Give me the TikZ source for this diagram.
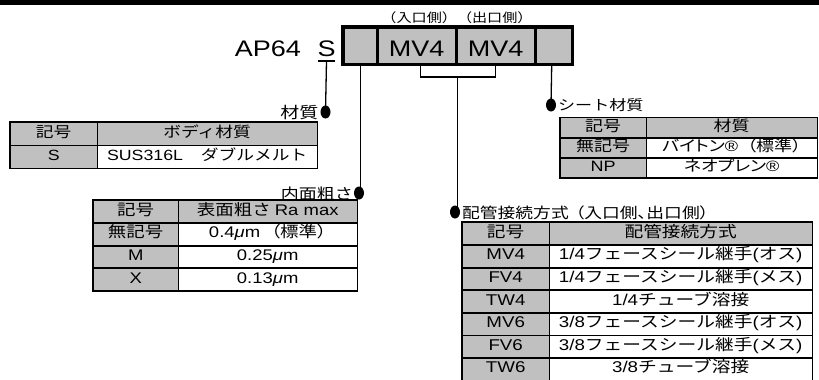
\documentclass[tikz,border=0pt]{standalone}
\usepackage{fontspec}
\setmainfont{Noto Sans CJK JP}[FakeStretch=1.2]
\newfontfamily\lat{Liberation Sans}[FakeStretch=1.2]
\newfontfamily\jpp{Noto Sans CJK JP}[FakeStretch=1.2,RawFeature=+palt]
\usetikzlibrary{calc,shapes.geometric}
\definecolor{cellgray}{RGB}{192,192,192}
\newcommand\myla[1]{{\lat #1}}
\newcommand\mymu{{\lat\itshape μ}}
\newcommand\fs[1]{\fontsize{#1}{#1}\selectfont}
\tikzset{
  cellbox/.style={inner sep=0pt, anchor=north west, text height=0.86em, text depth=0.12em},
  tline/.style={line width=1.8pt},
  conn/.style={line width=1.3pt},
  dotn/.style={ellipse, fill=black, minimum width=10pt, minimum height=13pt, inner sep=0pt},
  codecell/.style={fill=cellgray, inner sep=0pt, anchor=north west, minimum height=37pt},
  codetxt/.style={font=\lat\fs{22.5}},
  lbl/.style={inner sep=0pt},
}
% name, x0, x1, x2, ytop, h, right fill, left text, right text
\newcommand\trow[9]{%
  \node[cellbox, fill=cellgray, minimum width=#3-#2, minimum height=#6] (#1k) at (#2,#5) {#8};
  \node[cellbox, fill=#7, minimum width=#4-#3, minimum height=#6] (#1v) at (#3,#5) {#9};}
\begin{document}
\begin{tikzpicture}[x=1pt,y=-1pt]
\useasboundingbox (0,0) rectangle (819,380);
\fill[black] (0,0) rectangle (819,4.5);

% header over the code box
\node[lbl, font=\fs{12.6}, anchor=base] (hdr) at (457,22) {（入口側）（出口側）};

% model code
\node[lbl, codetxt, anchor=base east] (ap) at (301,56) {AP64};
\node[lbl, codetxt, anchor=base] (S) at (326.5,56) {S};
\coordinate (sl) at (318,61);
\coordinate (sr) at (335,61);
\coordinate (sm) at (326.5,61);

\node[codecell, minimum width=34pt] (c0) at (343,27) {};
\node[codecell, minimum width=79pt] (c1) at (377,27) {};
\node[codecell, minimum width=79pt] (c2) at (456,27) {};
\node[codecell, minimum width=37pt] (c3) at (535,27) {};
\node[lbl, codetxt, anchor=base] (mv1) at ($(c1.north)+(0,29)$) {MV4};
\node[lbl, codetxt, anchor=base] (mv2) at ($(c2.north)+(0,29)$) {MV4};
\draw[line width=3.5pt] (c0.north west) rectangle (c3.south east);
\draw[line width=3pt] (c0.north east) -- (c0.south east)
                      (c1.north east) -- (c1.south east)
                      (c2.north east) -- (c2.south east);

% dots
\node[dotn] (dmat) at (325.5,112) {};
\node[dotn] (dseat) at (551,105) {};
\node[dotn] (dnai) at (359,193) {};
\node[dotn] (dpipe) at (455,212) {};

% connectors
\draw[conn] (sl) -- (sr);
\draw[conn] (sm) -- (dmat.center);
\draw[conn] ($(c0.south)+(0,1.5)$) -- (c0.south |- dnai.center);
\draw[conn] ($(c3.south)+(-2,1.5)$) -- (dseat.center);
\coordinate (b1) at ($(c1.south)+(3.5,1.5)$);
\coordinate (b2) at ($(c2.south)+(-0.5,1.5)$);
\draw[conn] (b1) -- ++(0,11) coordinate (b1d) -- (b1d -| b2) -- (b2);
\coordinate (bm) at ($(b1d)!0.5!(b1d -| b2)$);
\draw[conn] (bm) -- (bm |- dpipe.center) -- (dpipe.center);

% labels
\node[lbl, font=\fs{15.8}, anchor=base east] (lmat) at (318.5,118) {材質};
\node[lbl, font=\fs{14.2}, anchor=base west] (lseat) at (558,110.5) {シート材質};
\node[lbl, font=\fs{15}, anchor=base east] (lnai) at (353,199) {内面粗さ};
\node[lbl, font=\jpp\fs{14.8}, anchor=base west] (lpipe) at (462,218) {配管接続方式\hspace{0.45em}（入口側、出口側）};

% table 1 : body material
\begin{scope}[cellbox/.append style={font=\fs{14.8}}]
\trow{t1h}{10}{97}{317}{122}{23}{cellgray}{記号}{ボディ材質}
\trow{t1a}{10}{97}{317}{145}{23}{white}{\myla{S}}{\myla{SUS316L}　ダブルメルト}
\draw[tline] (t1hk.north west) rectangle (t1av.south east);
\draw[tline] (t1hk.north east) -- (t1ak.south east);
\draw[tline] (t1hk.south west) -- (t1hv.south east);
\end{scope}

% table 2 : inner surface roughness
\begin{scope}[cellbox/.append style={font=\fs{15.4}}]
\trow{t2h}{93}{178}{357}{200}{22.6}{cellgray}{記号}{表面粗さ \myla{Ra max}}
\trow{t2a}{93}{178}{357}{222.6}{22.6}{white}{無記号}{\myla{0.4}\mymu\myla{m}\hspace{0.7em}{\jpp （標準）}}
\trow{t2b}{93}{178}{357}{245.2}{22.6}{white}{\myla{M}}{\myla{0.25}\mymu\myla{m}}
\trow{t2c}{93}{178}{357}{267.8}{22.6}{white}{\myla{X}}{\myla{0.13}\mymu\myla{m}}
\draw[tline] (t2hk.north west) rectangle (t2cv.south east);
\draw[tline] (t2hk.north east) -- (t2ck.south east);
\foreach \r in {t2h,t2a,t2b} \draw[tline] (\r k.south west) -- (\r v.south east);
\end{scope}

% table 3 : seat material
\begin{scope}[cellbox/.append style={font=\fs{15}}]
\trow{t3h}{560}{646}{817}{117.5}{20}{cellgray}{記号}{材質}
\trow{t3a}{560}{646}{817}{137.5}{20}{white}{無記号}{{\jpp バイトン}\myla{®}\hspace{0.6em}{\jpp （標準）}}
\trow{t3b}{560}{646}{817}{157.5}{20}{white}{\myla{NP}}{{\jpp ネオプレン}\myla{®}}
\draw[tline] (t3hk.north west) rectangle (t3bv.south east);
\draw[tline] (t3hk.north east) -- (t3bk.south east);
\foreach \r in {t3h,t3a} \draw[tline] (\r k.south west) -- (\r v.south east);
\end{scope}

% table 4 : piping connection
\begin{scope}[cellbox/.append style={font=\fs{15.6}}]
\trow{t4h}{462}{549}{812}{222}{22.6}{cellgray}{記号}{配管接続方式}
\trow{t4a}{462}{549}{812}{244.6}{22.6}{white}{\myla{MV4}}{\myla{1/4}フェースシール継手\myla{(}オス\myla{)}}
\trow{t4b}{462}{549}{812}{267.2}{22.6}{white}{\myla{FV4}}{\myla{1/4}フェースシール継手\myla{(}メス\myla{)}}
\trow{t4c}{462}{549}{812}{289.8}{22.6}{white}{\myla{TW4}}{\myla{1/4}チューブ溶接}
\trow{t4d}{462}{549}{812}{312.4}{22.6}{white}{\myla{MV6}}{\myla{3/8}フェースシール継手\myla{(}オス\myla{)}}
\trow{t4e}{462}{549}{812}{335}{22.6}{white}{\myla{FV6}}{\myla{3/8}フェースシール継手\myla{(}メス\myla{)}}
\trow{t4f}{462}{549}{812}{357.6}{22.6}{white}{\myla{TW6}}{\myla{3/8}チューブ溶接}
\draw[tline] (t4hk.north west) rectangle (t4fv.south east);
\draw[tline] (t4hk.north east) -- (t4fk.south east);
\foreach \r in {t4h,t4a,t4b,t4c,t4d,t4e} \draw[tline] (\r k.south west) -- (\r v.south east);
\end{scope}
\end{tikzpicture}
\end{document}
